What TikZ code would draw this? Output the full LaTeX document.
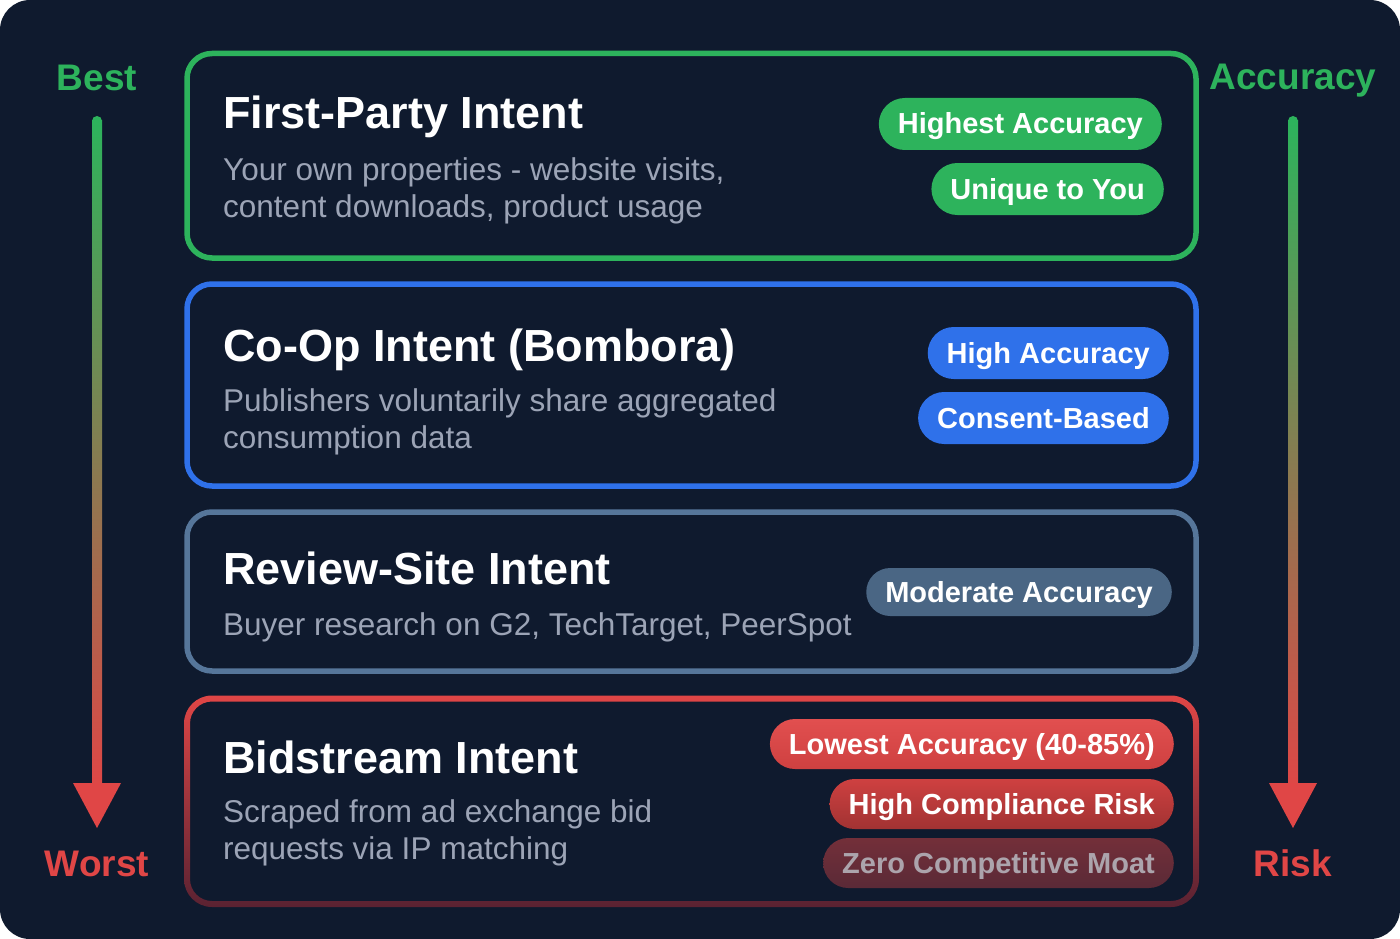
\documentclass[tikz,border=0pt]{standalone}
\usepackage{fontspec}
\setmainfont{Liberation Sans}
\definecolor{bg}{HTML}{0F1A2E}
\definecolor{gr}{HTML}{2DB35C}
\definecolor{rd}{HTML}{E04646}
\definecolor{rddark}{HTML}{5A2232}
\definecolor{bl}{HTML}{2F71EA}
\definecolor{sl}{HTML}{56769A}
\definecolor{slpill}{HTML}{4A6684}
\definecolor{subgray}{HTML}{9CA4B6}
\definecolor{moatgray}{HTML}{ACA4AC}
\begin{document}
\begin{tikzpicture}[x=1pt,y=-1pt,
  card/.style={draw, line width=5.5pt, rounded corners=25pt},
  ttl/.style={anchor=base west, text=white, inner sep=0pt, font=\bfseries\fontsize{45}{50}\selectfont},
  sub/.style={anchor=base west, text=subgray, inner sep=0pt, font=\fontsize{31.5}{36}\selectfont},
  pill/.style={anchor=east, text=white, inner xsep=19pt, inner ysep=0pt, minimum height=52pt,
     rounded corners=26pt, text height=20pt, text depth=0pt, font=\bfseries\fontsize{29}{30}\selectfont},
  side/.style={anchor=base, inner sep=0pt, font=\bfseries\fontsize{37}{40}\selectfont}]
\useasboundingbox (0,0) rectangle (1400,939);
\fill[white] (0,0) rectangle (1400,939);
\fill[bg, rounded corners=30pt] (0,0) rectangle (1400,939);

% cards
\draw[card, gr] (187,53.5) rectangle (1196,258);
\draw[card, bl] (187,284) rectangle (1196,486);
\draw[card, sl] (187,512) rectangle (1196,671);
\shade[top color=rd, bottom color=rddark, even odd rule]
  [rounded corners=28pt] (184,695.5) rectangle (1199,907)
  [rounded corners=22pt] (190,701.5) rectangle (1193,901);

% card 1
\node[ttl] (t1) at (223,129) {First-Party Intent};
\node[sub] (s1a) at (223,180) {Your own properties - website visits,};
\node[sub] (s1b) at (223,217) {content downloads, product usage};
\node[pill, fill=gr] (p1a) at (1162,124) {Highest Accuracy};
\node[pill, fill=gr] (p1b) at (1164,189) {Unique to You};

% card 2
\node[ttl] (t2) at (223,361) {Co-Op Intent (Bombora)};
\node[sub] (s2a) at (223,411) {Publishers voluntarily share aggregated};
\node[sub] (s2b) at (223,448) {consumption data};
\node[pill, fill=bl] (p2a) at (1169,353) {High Accuracy};
\node[pill, fill=bl] (p2b) at (1169,418) {Consent-Based};

% card 3
\node[ttl] (t3) at (223,584) {Review-Site Intent};
\node[sub] (s3a) at (223,635) {Buyer research on G2, TechTarget, PeerSpot};
\node[pill, fill=slpill, minimum height=48pt, rounded corners=24pt] (p3) at (1172,592) {Moderate Accuracy};

% card 4
\node[ttl] (t4) at (223,773) {Bidstream Intent};
\node[sub] (s4a) at (223,822) {Scraped from ad exchange bid};
\node[sub] (s4b) at (223,859) {requests via IP matching};
\node[pill, minimum height=50pt, rounded corners=25pt, top color=rd!95!white, bottom color=rd!92!black] (p4a) at (1174,744) {Lowest Accuracy (40-85\%)};
\node[pill, minimum height=50pt, rounded corners=25pt, top color=rd!92!black, bottom color=rd!72!black] (p4b) at (1174,804) {High Compliance Risk};
\node[pill, minimum height=50pt, rounded corners=25pt, top color=rd!48!bg, bottom color=rd!36!bg, text=moatgray] (p4c) at (1174,863) {Zero Competitive Moat};

% side labels
\node[side, text=gr] (best) at (97,91) {Best};
\node[side, text=rd] (worst) at (97,876) {Worst};
\node[side, text=gr] (acc) at (1293,90) {Accuracy};
\node[side, text=rd] (risk) at (1293,876) {Risk};

% left arrow
\coordinate (la) at (97,121);
\coordinate (lb) at (97,828);
\fill[gr] (la) circle (5pt);
\shade[top color=gr, bottom color=rd] (92,121) rectangle (102,792);
\fill[rd] (73,783) -- (121,783) -- (lb) -- cycle;

% right arrow
\coordinate (ra) at (1293,121);
\coordinate (rb) at (1293,828);
\fill[gr] (ra) circle (5pt);
\shade[top color=gr, bottom color=rd] (1288,121) rectangle (1298,792);
\fill[rd] (1269,783) -- (1317,783) -- (rb) -- cycle;
\end{tikzpicture}
\end{document}
